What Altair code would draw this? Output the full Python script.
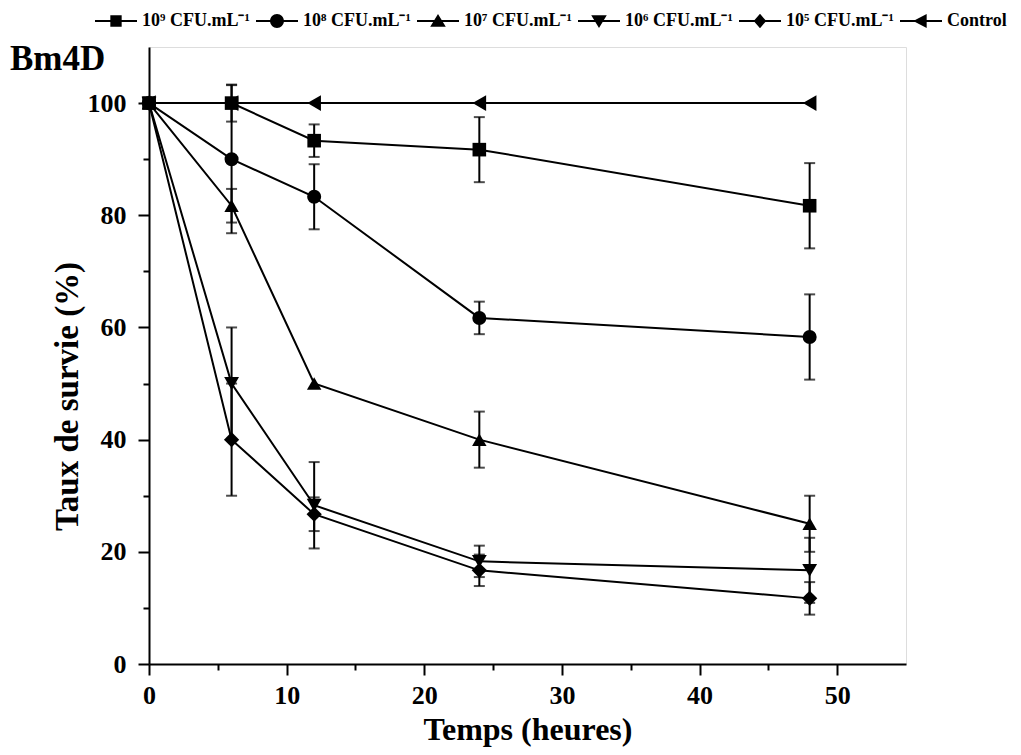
import altair as alt
import pandas as pd

# ---- data ----
times = [0, 6, 12, 24, 48]
series = ["10⁹ CFU.mL⁻¹", "10⁸ CFU.mL⁻¹", "10⁷ CFU.mL⁻¹",
          "10⁶ CFU.mL⁻¹", "10⁵ CFU.mL⁻¹", "Control"]
v_1e9 = [100, 100, 93.3, 91.7, 81.7]
v_1e8 = [100, 90, 83.3, 61.7, 58.3]
v_1e7 = [100, 81.7, 50, 40, 25]
v_1e6 = [100, 50, 28.3, 18.3, 16.7]
v_1e5 = [100, 40, 26.7, 16.7, 11.7]
v_ctrl = [100, 100, 100, 100, 100]
e_1e9 = [0, 3.3, 2.9, 5.8, 7.6]
e_1e8 = [0, 13.2, 5.8, 2.9, 7.6]
e_1e7 = [0, 3.0, 0, 5.0, 5.0]
e_1e6 = [0, 10, 7.7, 2.8, 5.8]
e_1e5 = [0, 10, 3.0, 2.8, 2.9]
e_ctrl = [0, 0, 0, 0, 0]

values = [v_1e9, v_1e8, v_1e7, v_1e6, v_1e5, v_ctrl]
errors = [e_1e9, e_1e8, e_1e7, e_1e6, e_1e5, e_ctrl]

x_major = [0, 10, 20, 30, 40, 50]
x_minor = [5, 15, 25, 35, 45]
y_major = [0, 20, 40, 60, 80, 100]
y_minor = [10, 30, 50, 70, 90]

point_shapes = ["square", "circle", "triangle-up", "triangle-down", "diamond", "triangle-left"]
point_sizes = [185, 245, 265, 265, 265, 265]
# legend glyphs: a thin filled bar (the line) plus the marker, both clockwise
BAR = "M-1,-0.05L1,-0.05L1,0.05L-1,0.05Z"
legend_paths = [
    BAR + "M-0.27,-0.27L0.27,-0.27L0.27,0.27L-0.27,0.27Z",
    BAR + "M-0.33,0A0.33,0.33 0 1,1 0.33,0A0.33,0.33 0 1,1 -0.33,0Z",
    BAR + "M0,-0.33L0.37,0.27L-0.37,0.27Z",
    BAR + "M-0.37,-0.27L0.37,-0.27L0,0.33Z",
    BAR + "M0,-0.34L0.3,0L0,0.34L-0.3,0Z",
    BAR + "M-0.37,0L0.27,-0.33L0.27,0.33Z",
]

rows = []
# control first so other markers are drawn over it
order = [5, 4, 3, 2, 1, 0]
for i in order:
    for t, v, e in zip(times, values[i], errors[i]):
        rows.append({"time": t, "value": v, "err": e, "lo": v - e, "hi": v + e,
                     "series": series[i]})
df = pd.DataFrame(rows)

FONT = "Liberation Serif"
xscale = alt.Scale(domain=[0, 55], nice=False, zero=False)
yscale = alt.Scale(domain=[0, 110], nice=False, zero=False)

x_main = alt.X("time:Q", scale=xscale, axis=alt.Axis(
    values=x_major, title="Temps (heures)", orient="bottom", grid=False,
    format="d", tickSize=11, tickWidth=2, tickColor="black",
    domainColor="black", domainWidth=2, labelFlush=False,
    labelFont=FONT, labelFontSize=26, labelFontWeight="bold", labelColor="black",
    labelPadding=7, titleFont=FONT, titleFontSize=32, titleFontWeight="bold",
    titleColor="black", titlePadding=6))
y_main = alt.Y("value:Q", scale=yscale, axis=alt.Axis(
    values=y_major, title="Taux de survie (%)", orient="left", grid=False,
    format="d", tickSize=11, tickWidth=2, tickColor="black",
    domainColor="black", domainWidth=2,
    labelFont=FONT, labelFontSize=26, labelFontWeight="bold", labelColor="black",
    labelPadding=12, titleFont=FONT, titleFontSize=33, titleFontWeight="bold",
    titleColor="black", titlePadding=3, titleY=349))

x_none = alt.X("time:Q", scale=xscale, axis=None)
y_none = alt.Y("value:Q", scale=yscale, axis=None)

base = alt.Chart(df)

lines = base.mark_line(color="black", strokeWidth=2).encode(
    x=x_main, y=y_main, detail="series:N")

err_df = df[df["err"] > 0]
ebase = alt.Chart(err_df)
rules = ebase.mark_rule(color="black", strokeWidth=2).encode(
    x=x_none, y=alt.Y("lo:Q", scale=yscale, axis=None), y2="hi:Q")
cap_lo = ebase.mark_tick(orient="horizontal", color="black", size=11, thickness=2).encode(
    x=x_none, y=alt.Y("lo:Q", scale=yscale, axis=None))
cap_hi = ebase.mark_tick(orient="horizontal", color="black", size=11, thickness=2).encode(
    x=x_none, y=alt.Y("hi:Q", scale=yscale, axis=None))

points = base.mark_point(filled=True, color="black", opacity=1).encode(
    x=x_none, y=y_none,
    shape=alt.Shape("series:N", scale=alt.Scale(domain=series, range=point_shapes), legend=None),
    size=alt.Size("series:N", scale=alt.Scale(domain=series, range=point_sizes), legend=None))

legend_layer = base.mark_point(filled=True, color="black", opacity=0).encode(
    x=alt.X("time:Q", scale=xscale, axis=alt.Axis(
        values=x_minor, labels=False, title=None, orient="bottom", grid=False,
        domain=False, tickSize=6, tickWidth=2, tickColor="black")),
    y=alt.Y("value:Q", scale=yscale, axis=alt.Axis(
        values=y_minor, labels=False, title=None, orient="left", grid=False,
        domain=False, tickSize=6, tickWidth=2, tickColor="black")),
    shape=alt.Shape("series:N", scale=alt.Scale(domain=series, range=legend_paths),
                    legend=alt.Legend(
                        title=None, orient="none", legendX=-54, legendY=-47,
                        direction="horizontal", symbolSize=1764, symbolStrokeWidth=0,
                        symbolFillColor="black",
                        symbolOpacity=1, labelFont=FONT, labelFontSize=18,
                        labelFontWeight="bold", labelColor="black",
                        labelOffset=5, columnPadding=6, values=series)))

chart = alt.layer(lines, rules, cap_lo, cap_hi, points, legend_layer).resolve_scale(
    shape="independent", size="independent"
).resolve_axis(x="independent", y="independent").properties(
    width=757, height=617,
    title=alt.TitleParams("Bm4D", anchor="start", frame="group", orient="top",
                          font=FONT, fontSize=35, fontWeight="bold", color="black",
                          baseline="alphabetic", offset=0, dx=-139, dy=105),
    autosize=alt.AutoSizeParams(type="none"),
    padding={"left": 141, "top": 39, "right": 107, "bottom": 83},
).configure_view(stroke="black", strokeWidth=2).configure(background="white")

chart.save("out.html", embed_options={"renderer": "svg", "actions": False})
